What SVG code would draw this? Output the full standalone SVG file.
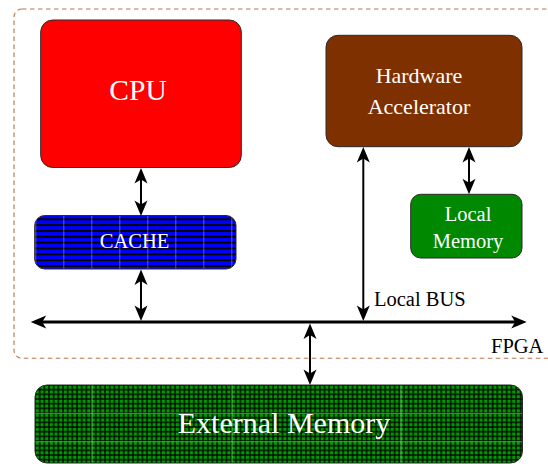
<svg xmlns="http://www.w3.org/2000/svg" width="548" height="464" viewBox="0 0 548 464">
  <style>
    .box { stroke: #2a2a2a; stroke-width: 1; }
    .lbl { font-family: "Liberation Serif", "Times New Roman", serif; fill: #ffffff; text-anchor: middle; }
    .blk { font-family: "Liberation Serif", "Times New Roman", serif; fill: #000000; }
    .conn { stroke: #000000; fill: none; marker-start: url(#head); marker-end: url(#head); }
    .seam { stroke: #ffffff; stroke-opacity: 0.35; stroke-width: 1; }
    .gseam { stroke: #9cff9c; stroke-opacity: 0.55; stroke-width: 1; }
  </style>
  <defs>
    <marker id="head" markerUnits="userSpaceOnUse" orient="auto-start-reverse" refX="0" refY="0" markerWidth="40" markerHeight="40" viewBox="-20 -20 40 40" overflow="visible">
      <path d="M8,0 L-7.5,-6.5 L-3.5,0 L-7.5,6.5 Z" fill="#000"/>
    </marker>
    <pattern id="hlines" patternUnits="userSpaceOnUse" x="7.3" y="218.3" width="28" height="5.833">
      <rect x="0" y="0" width="28" height="5.833" fill="#0000ff"/>
      <rect x="0" y="0" width="28" height="2" fill="#000"/>
      <line x1="0.5" y1="0" x2="0.5" y2="5.833" class="seam"/>
    </pattern>
    <pattern id="grid" patternUnits="userSpaceOnUse" x="35" y="385" width="4.67" height="4.67">
      <rect x="0" y="0" width="4.67" height="4.67" fill="#000"/>
      <rect x="0.65" y="0.65" width="3.37" height="3.37" fill="#009a00"/>
    </pattern>
    <clipPath id="extclip">
      <rect x="35" y="385" width="487.5" height="78" rx="12"/>
    </clipPath>
  </defs>

  <g id="fpga">
    <rect x="14" y="9" width="560" height="349.3" rx="8" fill="none" stroke="#b9764c" stroke-width="1.1" stroke-dasharray="4.5 3.5"/>
    <text x="491" y="353.3" class="blk" font-size="20.5">FPGA</text>
  </g>

  <g id="cpu">
    <rect x="40.7" y="20" width="200.6" height="147.5" rx="12" fill="#ff0000" class="box"/>
    <text x="138" y="100" class="lbl" font-size="29.5">CPU</text>
  </g>

  <g id="cache">
    <rect x="34.7" y="215.5" width="201.3" height="53.5" rx="10" fill="url(#hlines)"/>
    <rect x="34.7" y="215.5" width="201.3" height="53.5" rx="10" fill="none" class="box"/>
    <text x="134.5" y="247.7" class="lbl" font-size="20.5">CACHE</text>
  </g>

  <g id="hw">
    <rect x="326" y="35.3" width="196" height="111.4" rx="12" fill="#7f3000" class="box"/>
    <text x="419" y="83" class="lbl" font-size="22">Hardware</text>
    <text x="419" y="114" class="lbl" font-size="22">Accelerator</text>
  </g>

  <g id="localmem">
    <rect x="410.7" y="194.3" width="111.3" height="63.7" rx="10" fill="#008800" class="box"/>
    <text x="468" y="220.7" class="lbl" font-size="20.5">Local</text>
    <text x="468" y="247.7" class="lbl" font-size="20.5">Memory</text>
  </g>

  <g id="extmem">
    <rect x="35" y="385" width="487.5" height="78" rx="12" fill="url(#grid)"/>
    <g clip-path="url(#extclip)">
      <line x1="92" y1="385" x2="92" y2="463" class="gseam"/>
      <line x1="232" y1="385" x2="232" y2="463" class="gseam"/>
      <line x1="401" y1="385" x2="401" y2="463" class="gseam"/>
      <line x1="35" y1="413.3" x2="522.5" y2="413.3" class="gseam"/>
      <line x1="35" y1="441.7" x2="522.5" y2="441.7" class="gseam"/>
    </g>
    <rect x="35" y="385" width="487.5" height="78" rx="12" fill="none" class="box"/>
    <text x="284" y="433" class="lbl" font-size="30">External Memory</text>
  </g>

  <g id="connectors">
    <line x1="38.7" y1="322" x2="518.7" y2="322" class="conn" stroke-width="3"/>
    <line x1="141" y1="176" x2="141" y2="208" class="conn" stroke-width="2"/>
    <line x1="141" y1="277.5" x2="141" y2="313" class="conn" stroke-width="2"/>
    <line x1="363.3" y1="155" x2="363.3" y2="313" class="conn" stroke-width="2"/>
    <line x1="469" y1="155" x2="469" y2="186.3" class="conn" stroke-width="2"/>
    <line x1="310" y1="331.5" x2="310" y2="377" class="conn" stroke-width="2"/>
    <text x="374" y="306" class="blk" font-size="20.5">Local BUS</text>
  </g>
</svg>
